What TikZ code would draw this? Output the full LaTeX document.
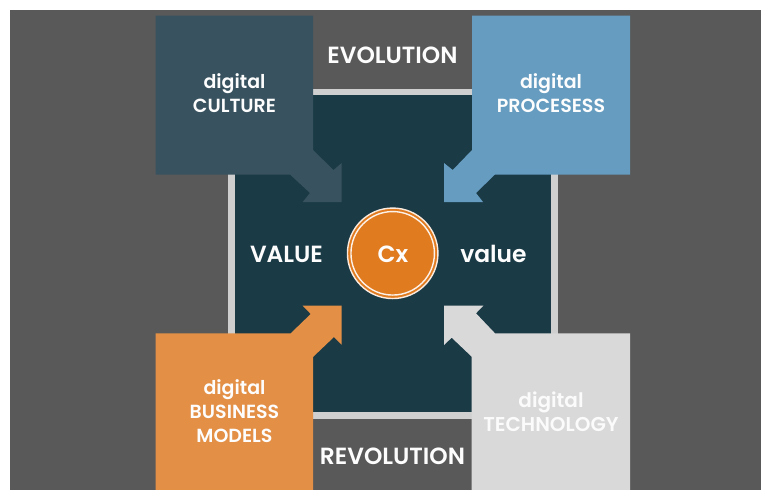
\documentclass[tikz,border=0pt]{standalone}
\usepackage{fontspec}
\setmainfont{Poppins SemiBold}
\definecolor{bggray}{HTML}{595959}
\definecolor{darkteal}{HTML}{1A3A46}
\definecolor{culture}{HTML}{38525F}
\definecolor{process}{HTML}{659CC0}
\definecolor{business}{HTML}{E38F45}
\definecolor{techno}{HTML}{D9D9D9}
\definecolor{coreorange}{HTML}{E07B20}
\definecolor{framegray}{HTML}{CFCFCF}
\tikzset{
  x=1pt,y=-1pt,
  lab/.style={text=white!95!techno,font=\fontsize{19}{24}\selectfont,align=center,inner sep=0pt},
  biglab/.style={text=white!95!techno,font=\fontsize{23.4}{26}\selectfont,align=center,inner sep=0pt},
}
\begin{document}
\begin{tikzpicture}
\useasboundingbox (0,0) rectangle (761,490);
\fill[white] (0,0) rectangle (761,490);
\fill[bggray] (10,10) rectangle (761,490);
% frame and centre square
\fill[framegray] (228,88.5) rectangle (557.5,419.3);
\fill[darkteal] (235,95) rectangle (551,412);
% boxes with arrows
\fill[culture] (155.5,15.5) -- (313,15.5) -- (313,150) -- (333.5,170) -- (341.7,163) -- (341.7,202) -- (302.7,202) -- (310,193) -- (290,174.5) -- (155.5,174.5) -- cycle;
\fill[process] (630,15.5) -- (472,15.5) -- (472,150) -- (452.7,170) -- (444,163) -- (444,202) -- (483,202) -- (476,193) -- (495,174.5) -- (630,174.5) -- cycle;
\fill[business] (155.5,490) -- (313,490) -- (313,357) -- (334,337) -- (341.5,344.5) -- (341.5,305.7) -- (302.7,305.7) -- (310.7,314) -- (290.7,333.3) -- (155.5,333.3) -- cycle;
\fill[techno] (630,490) -- (471.7,490) -- (471.7,356.7) -- (451.7,337.7) -- (444,345) -- (444,305.7) -- (483.3,305.7) -- (476,313.3) -- (495,333.3) -- (630,333.3) -- cycle;
% core
\node[circle,fill=coreorange,draw=white!85!coreorange,line width=1.4pt,minimum size=90.5pt,inner sep=0pt] (core) at (392.7,253.3) {};
\node[circle,draw=white!90!coreorange,line width=1.4pt,minimum size=83.5pt,inner sep=0pt] (corering) at (392.7,253.3) {};
\node[biglab] (cx) at (393,254) {Cx};
% labels
\node[biglab] (evo) at (392.5,55) {EVOLUTION};
\node[biglab] (rev) at (392.5,456) {REVOLUTION};
\node[biglab] (val1) at (286.5,254) {VALUE};
\node[biglab] (val2) at (493.5,254) {value};
\node[lab] (dc) at (234.5,93.5) {digital\\CULTURE};
\node[lab] (dp) at (551,93.5) {digital\\PROCESESS};
\node[lab] (db) at (234.5,411) {digital\\BUSINESS\\MODELS};
\node[lab,text=white!90!techno,font=\fontsize{20}{24}\selectfont] (dt) at (551,411.5) {digital\\TECHNOLOGY};
\end{tikzpicture}
\end{document}
